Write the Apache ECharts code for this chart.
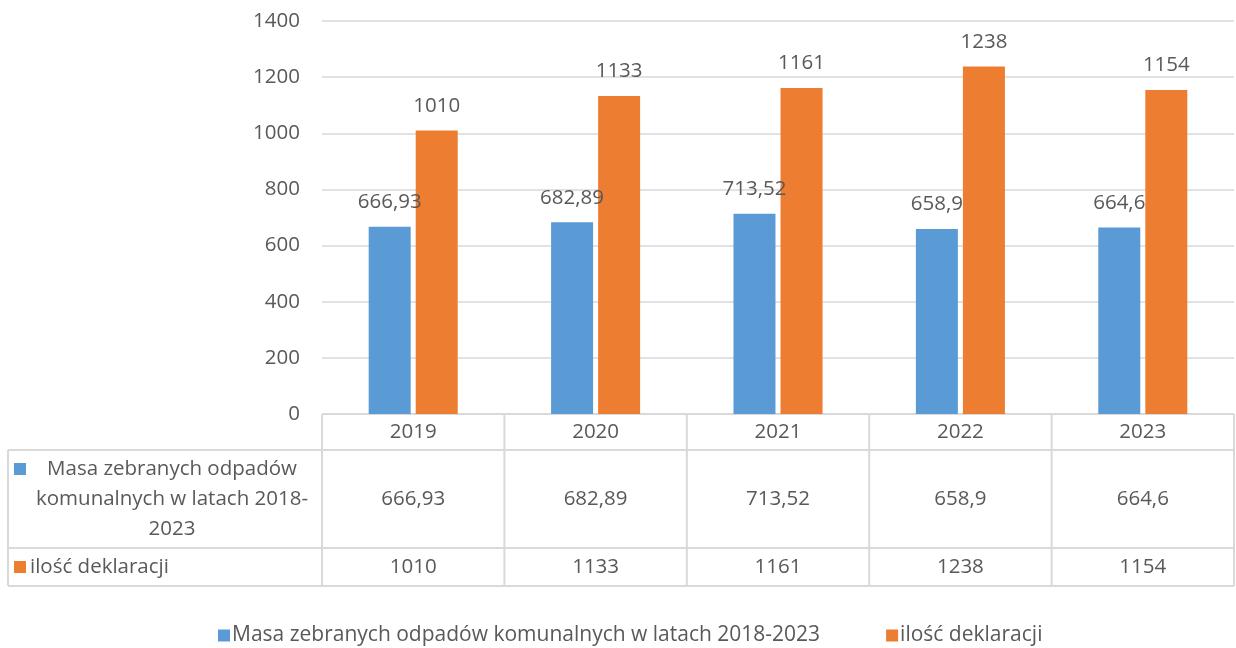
<!DOCTYPE html>
<html>
<head>
<meta charset="utf-8">
<script src="https://cdn.jsdelivr.net/npm/echarts@6/dist/echarts.min.js"></script>
<style>
  html, body { margin: 0; padding: 0; background: #fff; }
  #chart { width: 1236px; height: 648px; }
</style>
</head>
<body>
<div id="chart"></div>
<script>
// dane
const years = ['2019', '2020', '2021', '2022', '2023']
const masa = [666.93, 682.89, 713.52, 658.9, 664.6]
const deklaracje = [1010, 1133, 1161, 1238, 1154]
const masaName = 'Masa zebranych odpadów komunalnych w latach 2018-2023'
const deklName = 'ilość deklaracji'
const masaRowLabel = ['Masa zebranych odpadów', 'komunalnych w latach 2018-', '2023']

const BLUE = '#5b9bd5'
const ORANGE = '#ed7d31'
const TXT = '#595959'
const LINE = '#d9d9d9'
const FONT = '"Open Sans", "Noto Sans", sans-serif'
const FS = 20.5

// uklad
const W = 1236
const gLeft = 322, gRight = 2, gTop = 21, gBottom = 234
const axisY = 648 - gBottom
const rows = [axisY, axisY + 36, axisY + 134, axisY + 172]
const tableLeft = 8

const fmt = v => String(v).replace('.', ',')

const chart = echarts.init(document.getElementById('chart'))

function tableGraphics () {
  const g = []
  const colW = (W - gLeft - gRight) / years.length
  const right = W - gRight
  const ls = { stroke: LINE, lineWidth: 2 }
  // poziome linie
  g.push({ type: 'line', shape: { x1: gLeft, y1: rows[0], x2: right, y2: rows[0] }, style: ls })
  for (let i = 1; i < rows.length; i++) {
    g.push({ type: 'line', shape: { x1: tableLeft, y1: rows[i], x2: right, y2: rows[i] }, style: ls })
  }
  // pionowe linie
  g.push({ type: 'line', shape: { x1: tableLeft, y1: rows[1], x2: tableLeft, y2: rows[3] }, style: ls })
  for (let i = 0; i <= years.length; i++) {
    const x = gLeft + colW * i
    g.push({ type: 'line', shape: { x1: x, y1: rows[0], x2: x, y2: rows[3] }, style: ls })
  }
  const txt = (x, y, s, align) => ({
    type: 'text', x: x, y: y,
    style: { text: s, fill: TXT, font: FS + 'px ' + FONT, align: align || 'center', verticalAlign: 'middle' }
  })
  years.forEach((yr, i) => {
    const cx = gLeft + colW * (i + 0.5)
    g.push(txt(cx, (rows[0] + rows[1]) / 2, yr))
    g.push(txt(cx, (rows[1] + rows[2]) / 2, fmt(masa[i])))
    g.push(txt(cx, (rows[2] + rows[3]) / 2, fmt(deklaracje[i])))
  })
  // etykiety wierszy
  g.push({ type: 'rect', shape: { x: 14, y: rows[1] + 13, width: 12, height: 12 }, style: { fill: BLUE } })
  masaRowLabel.forEach((s, k) => {
    g.push(txt(172, rows[1] + 19 + k * 30, s))
  })
  g.push({ type: 'rect', shape: { x: 14, y: rows[2] + 13, width: 12, height: 12 }, style: { fill: ORANGE } })
  g.push(txt(30, (rows[2] + rows[3]) / 2, deklName, 'left'))
  return g
}

const labelStyle = {
  show: true,
  position: 'top',
  distance: 14,
  color: TXT,
  fontSize: FS,
  fontFamily: FONT,
  formatter: p => fmt(p.value)
}

chart.setOption({
  animation: false,
  textStyle: { fontFamily: FONT },
  grid: { left: gLeft, right: gRight, top: gTop, bottom: gBottom },
  legend: {
    bottom: -3,
    left: 213,
    itemWidth: 12,
    itemHeight: 12,
    itemGap: 66,
    icon: 'rect',
    textStyle: { color: TXT, fontSize: 21, fontFamily: FONT, padding: [0, 0, 0, -3] },
    data: [masaName, deklName]
  },
  xAxis: {
    type: 'category',
    data: years,
    axisLine: { show: false },
    axisTick: { show: false },
    axisLabel: { show: false }
  },
  yAxis: {
    type: 'value',
    min: 0,
    max: 1400,
    interval: 200,
    axisLine: { show: false },
    axisTick: { show: false },
    splitLine: { lineStyle: { color: LINE, width: 1.5 } },
    axisLabel: { color: TXT, fontSize: FS, fontFamily: FONT, margin: 22, formatter: v => String(v) }
  },
  series: [
    {
      name: masaName,
      type: 'bar',
      data: masa,
      barWidth: 42,
      barGap: '12%',
      itemStyle: { color: BLUE },
      label: labelStyle
    },
    {
      name: deklName,
      type: 'bar',
      data: deklaracje,
      barWidth: 42,
      itemStyle: { color: ORANGE },
      label: labelStyle
    }
  ],
  graphic: tableGraphics()
})
</script>
</body>
</html>
